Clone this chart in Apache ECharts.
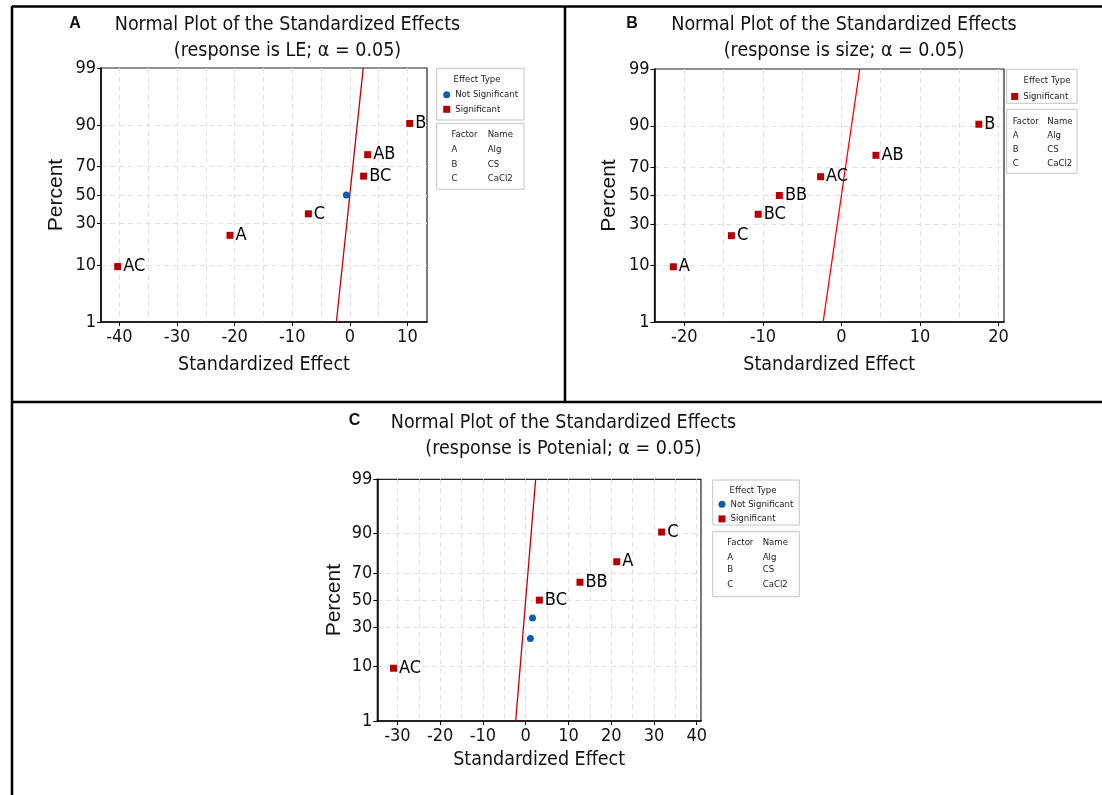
<!DOCTYPE html>
<html><head><meta charset="utf-8">
<script src="https://cdn.jsdelivr.net/npm/echarts@6/dist/echarts.min.js"></script>
<style>html,body{margin:0;padding:0;background:#fff}#c{width:1102px;height:795px}</style>
</head><body><div id="c"></div>
<script>
// ---------------- data ----------------
const panelKeys = ['A', 'B', 'C'];
const titleLine1 = 'Normal Plot of the Standardized Effects';
const titleLine2 = ['(response is LE; α = 0.05)', '(response is size; α = 0.05)', '(response is Potenial; α = 0.05)'];

const yTickPct = [1, 10, 30, 50, 70, 90, 99];
const yGridPct = [10, 30, 50, 70, 90];

const xTicksA = [-40, -30, -20, -10, 0, 10];
const xTicksB = [-20, -10, 0, 10, 20];
const xTicksC = [-30, -20, -10, 0, 10, 20, 30, 40];
const xRangeA = [-43.2, 13.4];
const xRangeB = [-23.8, 20.7];
const xRangeC = [-34.7, 41.0];

const effectsA = [-40.3, -20.8, -7.2, -0.6, 2.4, 3.1, 10.4];
const pctA     = [9.5, 23.0, 36.5, 50.0, 63.5, 77.0, 90.5];
const termsA   = ['AC', 'A', 'C', '', 'BC', 'AB', 'B'];
const signifA  = [true, true, true, false, true, true, true];

const effectsB = [-21.4, -14.0, -10.6, -7.9, -2.65, 4.4, 17.5];
const pctB     = [9.5, 23.0, 36.5, 50.0, 63.5, 77.0, 90.5];
const termsB   = ['A', 'C', 'BC', 'BB', 'AC', 'AB', 'B'];
const signifB  = [true, true, true, true, true, true, true];

const effectsC = [-30.9, 1.1, 1.6, 3.2, 12.7, 21.3, 31.8];
const pctC     = [9.5, 23.0, 36.5, 50.0, 63.5, 77.0, 90.5];
const termsC   = ['AC', '', '', 'BC', 'BB', 'A', 'C'];
const signifC  = [true, false, false, true, true, true, true];

const fitEffect = [-2.33, 2.33];
const fitPct = [1, 99];

const factorCodes = ['A', 'B', 'C'];
const factorNames = ['Alg', 'CS', 'CaCl2'];
const legendTitle = 'Effect Type';
const factorHeader = ['Factor', 'Name'];

// ---------------- helpers ----------------
function probit(p) {
  const a = [-3.969683028665376e+01, 2.209460984245205e+02, -2.759285104469687e+02, 1.383577518672690e+02, -3.066479806614716e+01, 2.506628277459239e+00];
  const b = [-5.447609879822406e+01, 1.615858368580409e+02, -1.556989798598866e+02, 6.680131188771972e+01, -1.328068155288572e+01];
  const c = [-7.784894002430293e-03, -3.223964580411365e-01, -2.400758277161838e+00, -2.549732539343734e+00, 4.374664141464968e+00, 2.938163982698783e+00];
  const d = [7.784695709041462e-03, 3.224671290700398e-01, 2.445134137142996e+00, 3.754408661907416e+00];
  const pl = 0.02425, ph = 1 - pl;
  let q, r;
  if (p < pl) { q = Math.sqrt(-2 * Math.log(p)); return (((((c[0]*q+c[1])*q+c[2])*q+c[3])*q+c[4])*q+c[5]) / ((((d[0]*q+d[1])*q+d[2])*q+d[3])*q+1); }
  if (p <= ph) { q = p - 0.5; r = q*q; return (((((a[0]*r+a[1])*r+a[2])*r+a[3])*r+a[4])*r+a[5])*q / (((((b[0]*r+b[1])*r+b[2])*r+b[3])*r+b[4])*r+1); }
  q = Math.sqrt(-2 * Math.log(1 - p)); return -(((((c[0]*q+c[1])*q+c[2])*q+c[3])*q+c[4])*q+c[5]) / ((((d[0]*q+d[1])*q+d[2])*q+d[3])*q+1);
}
const z = pct => probit(pct / 100);
const yTickZ = yTickPct.map(z);
const yGridZ = yGridPct.map(z);
function pctLabel(v) {
  for (let i = 0; i < yTickZ.length; i++) if (Math.abs(yTickZ[i] - v) < 1e-6) return String(yTickPct[i]);
  return '';
}
function every5(range) {
  const out = [];
  for (let v = Math.ceil(range[0] / 5) * 5; v <= range[1]; v += 5) out.push(v);
  return out;
}

// ---------------- styling / layout ----------------
const FN = '"Liberation Sans Narrow", "Arial Narrow", "DejaVu Sans Condensed", sans-serif';
const FR = '"Liberation Sans", Arial, sans-serif';
const RED = '#b40000';
const BLUE = '#0b5cb5';
const TXT = '#111';
const GRID_LINE = { show: true, lineStyle: { color: '#e0e0e0', width: 1, type: [5, 4] } };

const panelData = [
  { effects: effectsA, pct: pctA, terms: termsA, sig: signifA, xTicks: xTicksA, xRange: xRangeA },
  { effects: effectsB, pct: pctB, terms: termsB, sig: signifB, xTicks: xTicksB, xRange: xRangeB },
  { effects: effectsC, pct: pctC, terms: termsC, sig: signifC, xTicks: xTicksC, xRange: xRangeC }
];
const layout = [
  { grid: { left: 101, top: 68, width: 326, height: 254 }, key: [75, 26], title: [287.5, 12], nameGapX: 33, nameGapY: 34,
    lineColor: '#c00000', legend: [443.2, 89.2], hasNS: true,
    box1: [436.7, 68.3, 87.3, 51.7], hdr: [477, 79.3], box2: [436.7, 123.3, 87.3, 66], fx: [451.5, 487.7], fy: [135, 150, 164.3, 178.3] },
  { grid: { left: 654.5, top: 69, width: 349.5, height: 253 }, key: [632, 26], title: [844, 12], nameGapX: 33, nameGapY: 35,
    lineColor: '#ff0000', legend: [1011.2, 91], hasNS: false,
    box1: [1006.7, 69.3, 70.3, 34], hdr: [1047, 80.7], box2: [1006.7, 109.3, 70.3, 64], fx: [1012.7, 1047.3], fy: [122, 136, 149.3, 163.3] },
  { grid: { left: 377.3, top: 479.3, width: 323.7, height: 241.7 }, key: [354.5, 423], title: [563.5, 410], nameGapX: 29, nameGapY: 33,
    lineColor: '#c00000', legend: [718.5, 498.8], hasNS: true,
    box1: [712.7, 480, 86.6, 45], hdr: [753, 490.7], box2: [712.7, 531.7, 86.6, 65], fx: [727.3, 762.7], fy: [542.7, 557.3, 570, 585] }
];

const option = {
  animation: false,
  backgroundColor: '#fff',
  title: [], grid: [], xAxis: [], yAxis: [], series: [], legend: [], graphic: []
};

panelData.forEach((pd, p) => {
  const L = layout[p];
  option.grid.push(Object.assign({ show: true, borderColor: '#222', borderWidth: 1.2, backgroundColor: 'transparent', containLabel: false, outerBoundsMode: 'none' }, L.grid));

  option.title.push({ text: panelKeys[p], left: L.key[0], top: L.key[1] - 10, textAlign: 'center', padding: 0,
    textStyle: { fontSize: 16, fontWeight: 'bold', fontFamily: FR, color: TXT } });
  option.title.push({ text: titleLine1 + '\n' + titleLine2[p], left: L.title[0], top: L.title[1], textAlign: 'center', padding: 0,
    textStyle: { fontSize: 19.5, fontWeight: 'normal', fontFamily: FN, color: TXT, lineHeight: 26 } });

  // main x axis (labels & ticks)
  option.xAxis.push({
    type: 'value', gridIndex: p, position: 'bottom', min: pd.xRange[0], max: pd.xRange[1],
    name: 'Standardized Effect', nameLocation: 'middle', nameGap: L.nameGapX,
    nameTextStyle: { fontSize: 19.5, fontFamily: FN, color: TXT },
    axisLine: { show: true, onZero: false, lineStyle: { color: '#000', width: 1.5 } },
    axisTick: { show: true, inside: false, length: 4, customValues: pd.xTicks, lineStyle: { color: '#000' } },
    axisLabel: { show: true, customValues: pd.xTicks, margin: 6, fontSize: 18, fontFamily: FN, color: TXT, formatter: v => String(v) },
    splitLine: { show: false }
  });
  // x grid-line axis (every 5)
  option.xAxis.push({
    type: 'value', gridIndex: p, position: 'top', min: pd.xRange[0], max: pd.xRange[1],
    axisLine: { show: false }, axisLabel: { show: false },
    axisTick: { show: false, customValues: every5(pd.xRange) },
    splitLine: GRID_LINE
  });
  // main y axis (normal probability scale)
  option.yAxis.push({
    type: 'value', gridIndex: p, position: 'left', min: yTickZ[0], max: yTickZ[yTickZ.length - 1],
    name: 'Percent', nameLocation: 'middle', nameGap: L.nameGapY, nameRotate: 90,
    nameTextStyle: { fontSize: 21, fontFamily: FR, color: TXT },
    axisLine: { show: true, onZero: false, lineStyle: { color: '#000', width: 1.5 } },
    axisTick: { show: true, inside: false, length: 4, customValues: yTickZ, lineStyle: { color: '#000' } },
    axisLabel: { show: true, customValues: yTickZ, margin: 5, fontSize: 18, fontFamily: FN, color: TXT, formatter: pctLabel },
    splitLine: { show: false }
  });
  // y grid-line axis
  option.yAxis.push({
    type: 'value', gridIndex: p, position: 'right', min: yTickZ[0], max: yTickZ[yTickZ.length - 1],
    axisLine: { show: false }, axisLabel: { show: false },
    axisTick: { show: false, customValues: yGridZ },
    splitLine: GRID_LINE
  });

  const sigPts = [], nsPts = [];
  pd.effects.forEach((e, i) => {
    const pt = [e, z(pd.pct[i]), pd.terms[i]];
    (pd.sig[i] ? sigPts : nsPts).push(pt);
  });
  const lbl = { show: true, position: 'right', distance: 2, formatter: q => q.data[2], fontSize: 18, fontFamily: FN, color: '#000' };
  option.series.push({ type: 'line', name: 'fit' + p, xAxisIndex: 2 * p, yAxisIndex: 2 * p, symbol: 'none', silent: true,
    data: fitEffect.map((e, i) => [e, z(fitPct[i])]), lineStyle: { color: L.lineColor, width: 1.3 }, z: 2 });
  option.series.push({ type: 'scatter', name: 'Significant', xAxisIndex: 2 * p, yAxisIndex: 2 * p, symbol: 'rect', symbolSize: 7,
    itemStyle: { color: RED, opacity: 1 }, data: sigPts, label: lbl, z: 3 });
  if (nsPts.length) option.series.push({ type: 'scatter', name: 'Not Significant', xAxisIndex: 2 * p, yAxisIndex: 2 * p, symbol: 'circle', symbolSize: 7,
    itemStyle: { color: BLUE, opacity: 1 }, data: nsPts, label: lbl, z: 3 });

  const legData = (L.hasNS ? [{ name: 'Not Significant', icon: 'circle' }] : []).concat([{ name: 'Significant', icon: 'rect' }]);
  option.legend.push({ data: legData, orient: 'vertical', left: L.legend[0], top: L.legend[1], padding: 0,
    itemWidth: 7, itemHeight: 7, itemGap: 3.6, selectedMode: false,
    itemStyle: { opacity: 1 },
    textStyle: { fontSize: 9.5, fontFamily: FN, color: '#222', lineHeight: 11 } });

  // legend & factor boxes
  const rect = b => ({ type: 'rect', shape: { x: b[0], y: b[1], width: b[2], height: b[3] }, style: { fill: 'none', stroke: '#c4c4c4', lineWidth: 1 }, silent: true });
  const txt = (t, x, y, align) => ({ type: 'text', x: x, y: y, silent: true,
    style: { text: t, fill: '#222', font: '9.5px ' + FN, align: align, verticalAlign: 'middle' } });
  option.graphic.push(rect(L.box1), rect(L.box2));
  option.graphic.push(txt(legendTitle, L.hdr[0], L.hdr[1], 'center'));
  option.graphic.push(txt(factorHeader[0], L.fx[0], L.fy[0], 'left'), txt(factorHeader[1], L.fx[1], L.fy[0], 'left'));
  factorCodes.forEach((f, i) => {
    option.graphic.push(txt(f, L.fx[0], L.fy[i + 1], 'left'), txt(factorNames[i], L.fx[1], L.fy[i + 1], 'left'));
  });
});

// panel frame lines
const frame = (x1, y1, x2, y2) => ({ type: 'line', shape: { x1, y1, x2, y2 }, style: { stroke: '#000', lineWidth: 2.5 }, silent: true });
option.graphic.push(frame(12, 6.5, 1102, 6.5), frame(12, 6, 12, 795), frame(565, 6, 565, 402), frame(12, 402, 1102, 402));

const chart = echarts.init(document.getElementById('c'), null, { renderer: 'canvas' });
chart.setOption(option);
</script>
</body></html>
